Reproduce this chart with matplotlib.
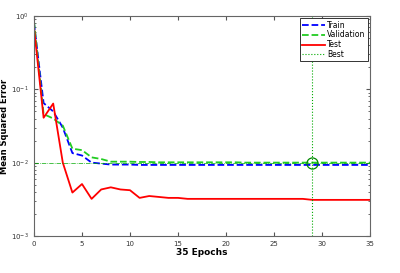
import numpy as np
import matplotlib.pyplot as plt

epochs = np.arange(0, 36)
train = [0.80, 0.065, 0.050, 0.030, 0.0135, 0.0125, 0.0100, 0.0097, 0.0094, 0.0094,
         0.0094, 0.0093, 0.0093, 0.0093, 0.0093, 0.0093, 0.0093, 0.0093, 0.0093, 0.0093,
         0.0093, 0.0093, 0.0093, 0.0093, 0.0093, 0.0093, 0.0093, 0.0093, 0.0093, 0.0093,
         0.0093, 0.0093, 0.0093, 0.0093, 0.0093, 0.0093]
valid = [0.85, 0.046, 0.040, 0.032, 0.0155, 0.0148, 0.0118, 0.0112, 0.0103, 0.0103,
         0.0103, 0.0102, 0.0102, 0.0101, 0.0101, 0.0101, 0.0101, 0.0101, 0.0101, 0.0101,
         0.0101, 0.0101, 0.0100, 0.0100, 0.0100, 0.0100, 0.0100, 0.0100, 0.0100, 0.0100,
         0.0100, 0.0100, 0.0100, 0.0100, 0.0100, 0.0100]
test = [0.70, 0.041, 0.064, 0.0100, 0.0039, 0.0051, 0.0032, 0.0043, 0.0046, 0.0043,
        0.0042, 0.0033, 0.0035, 0.0034, 0.0033, 0.0033, 0.0032, 0.0032, 0.0032, 0.0032,
        0.0032, 0.0032, 0.0032, 0.0032, 0.0032, 0.0032, 0.0032, 0.0032, 0.0032, 0.0031,
        0.0031, 0.0031, 0.0031, 0.0031, 0.0031, 0.0031]
best_epoch = 29
best_val = 0.0100

fig = plt.figure(figsize=(4, 2.73), dpi=100)
ax = fig.add_axes([0.085, 0.136, 0.84, 0.805])

ax.semilogy(epochs, train, '--', color='#0000ff', linewidth=1.3, label='Train')
ax.semilogy(epochs, valid, '--', color='#22cc22', linewidth=1.3, label='Validation')
ax.semilogy(epochs, test, '-', color='#ff0000', linewidth=1.3, label='Test')
ax.axvline(best_epoch, color='#00aa00', linestyle=':', linewidth=0.8, label='Best')
ax.axhline(best_val, color='#00aa00', linestyle='-.', linewidth=0.5)
ax.plot(best_epoch, best_val, 'o', markersize=8, markerfacecolor='none',
        markeredgecolor='#008800', markeredgewidth=0.9)

ax.set_xlim(0, 35)
ax.set_ylim(1e-3, 1)
ax.set_xticks(range(0, 36, 5))
ax.tick_params(which='both', direction='in', top=True, right=True, labelsize=5, colors='#555555',
               labelcolor='#333333')
ax.tick_params(which='major', length=3)
ax.tick_params(which='minor', length=1.5)
for s in ax.spines.values():
    s.set_color('#666666')

ax.set_xlabel('35 Epochs', fontsize=6.5, fontweight='bold', labelpad=1)
ax.set_ylabel('Mean Squared Error', fontsize=6, fontweight='bold', labelpad=2)

leg = ax.legend(loc='upper right', fontsize=5.5, fancybox=False, edgecolor='#333333',
                borderpad=0.3, labelspacing=0.1, handlelength=3.0, handletextpad=0.3,
                borderaxespad=0.3, framealpha=1)
leg.get_frame().set_linewidth(0.7)

fig.savefig('out.png', dpi=100)
